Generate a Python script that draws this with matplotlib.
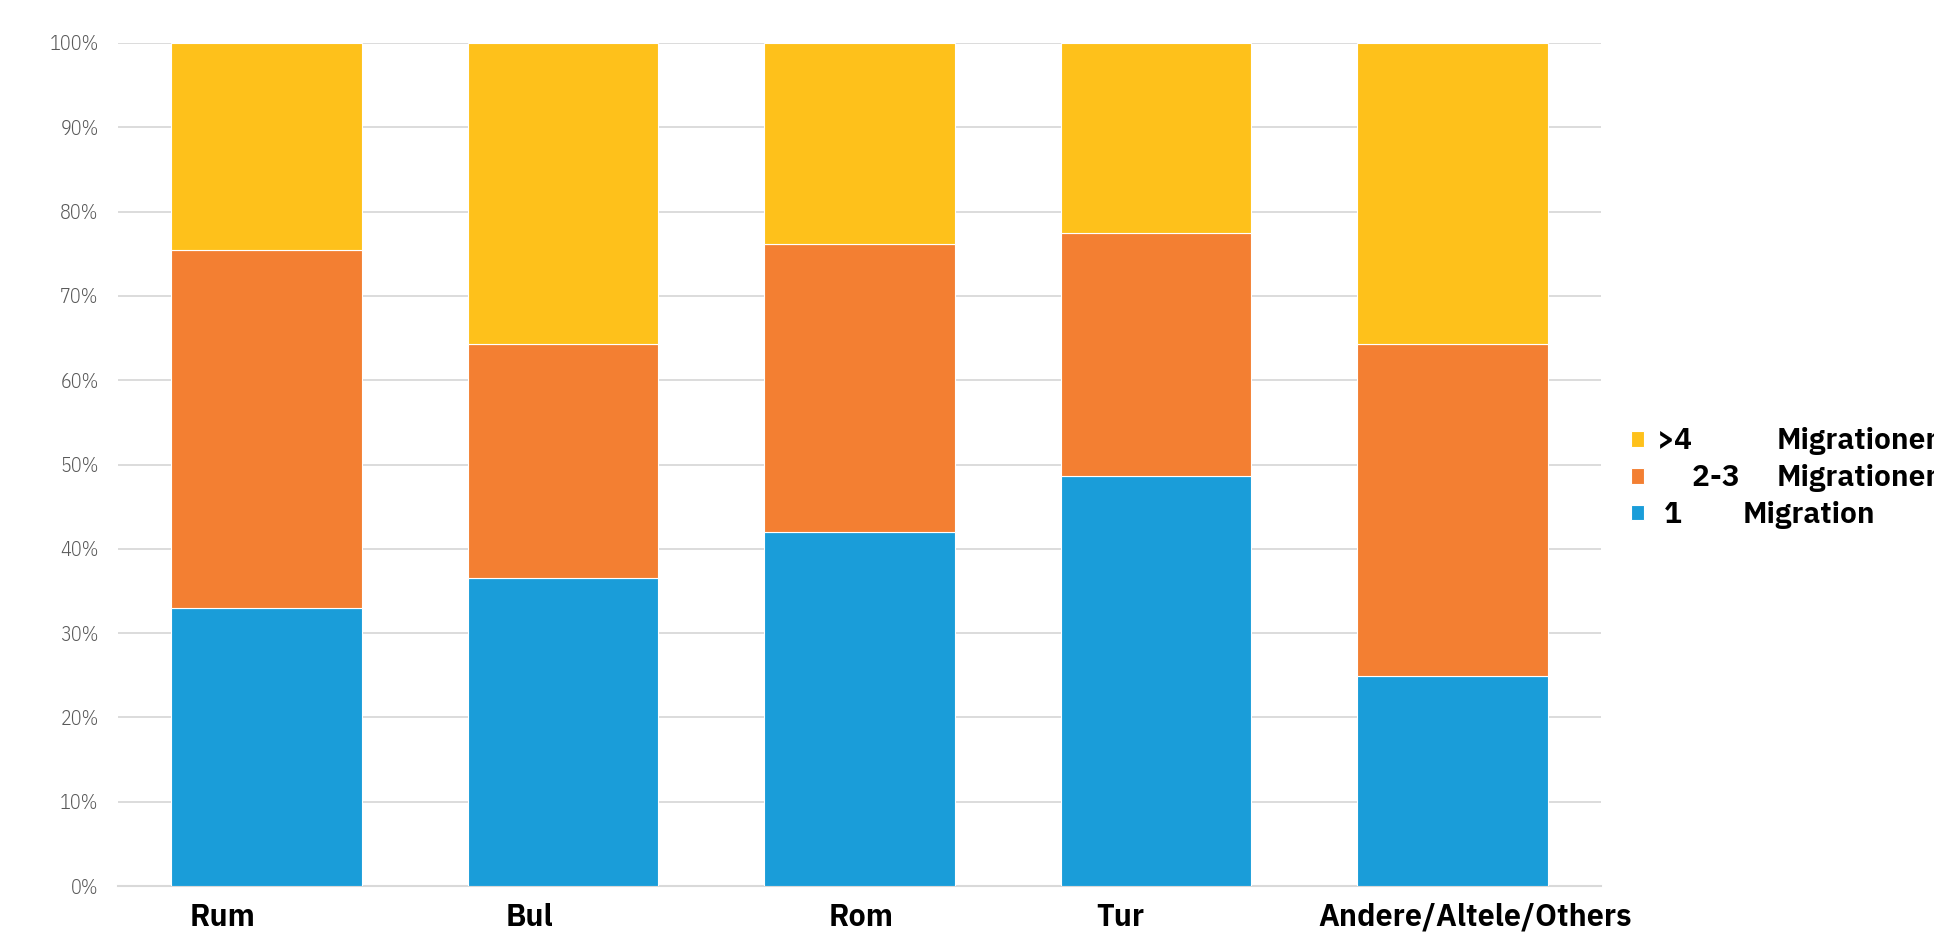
import matplotlib
matplotlib.use("Agg")
import matplotlib.pyplot as plt
import numpy as np
from matplotlib.ticker import PercentFormatter

# shares per group (percent)
categories = ["Rum", "Bul", "Rom", "Tur", "Andere/Altele/Others"]
one_migration = [33.0, 36.5, 42.0, 48.6, 24.9]
two_three = [42.4, 27.8, 34.2, 28.9, 39.4]
four_plus = [24.6, 35.7, 23.8, 22.5, 35.7]

# legend: first part next to the marker, second part in a column of its own
legend_first = [" 1", "     2-3", ">4"]
legend_second = ["Migration", "Migrationen", "Migrationen"]
colors = ["#1A9DD9", "#F37F32", "#FEC11B"]

FONT = "IBM Plex Sans Condensed"
BOLD_FONT = "IBM Plex Sans JP"
W, H = 1934, 943

fig = plt.figure(figsize=(W / 100, H / 100), dpi=100)
ax = fig.add_axes([118 / W, 57 / H, (1601 - 118) / W, (886 - 43) / H])

x = np.arange(len(categories))
width = 0.643
bottom = np.zeros(len(categories))
handles = []
for vals, lab, col in zip([one_migration, two_three, four_plus], legend_first, colors):
    b = ax.bar(x, vals, width, bottom=bottom, color=col, edgecolor="white",
               linewidth=0.8, label=lab, zorder=3)
    handles.append(b)
    bottom += np.array(vals)

ax.set_xlim(-0.5, len(categories) - 0.5)
ax.set_ylim(0, 100)
ax.set_yticks(np.arange(0, 101, 10))
ax.yaxis.set_major_formatter(PercentFormatter(decimals=0))
ax.grid(axis="y", color="#D9D9D9", linewidth=1.3, zorder=0)
for s in ["top", "right", "left"]:
    ax.spines[s].set_visible(False)
ax.spines["bottom"].set_color("#D9D9D9")
ax.spines["bottom"].set_linewidth(1.5)
ax.tick_params(axis="both", length=0)
ax.tick_params(axis="y", pad=14)
ax.tick_params(axis="x", pad=12)

# the category labels in the original sit a little off the bar centres
label_shift = np.array([-0.146, -0.114, 0.007, -0.12, 0.076])
ax.set_xticks(x + label_shift)
ax.set_xticklabels(categories, fontweight="bold", fontsize=21, family=BOLD_FONT)
for t in ax.get_yticklabels():
    t.set_family(FONT)
    t.set_fontweight(300)
    t.set_fontsize(14.5)
    t.set_color("#595959")

leg = fig.legend(handles[::-1], legend_first[::-1],
                 loc="center left", bbox_to_anchor=(1631 / W, 1 - 478 / H),
                 frameon=False, borderpad=0, borderaxespad=0,
                 prop={"family": BOLD_FONT, "weight": "bold", "size": 20.5},
                 handlelength=0.47, handleheight=0.47, handletextpad=0.45,
                 labelspacing=0.3)

fig.canvas.draw()
second_x = {"Migration": 1743, "Migrationen": 1777}
for t, word in zip(leg.get_texts(), legend_second[::-1]):
    bb = t.get_window_extent()
    fig.text(second_x[word] / W, (bb.y0 + bb.y1) / 2 / H, word, family=BOLD_FONT,
             fontweight="bold", fontsize=20.5, va="center", ha="left")

fig.savefig("out.png", dpi=100)
